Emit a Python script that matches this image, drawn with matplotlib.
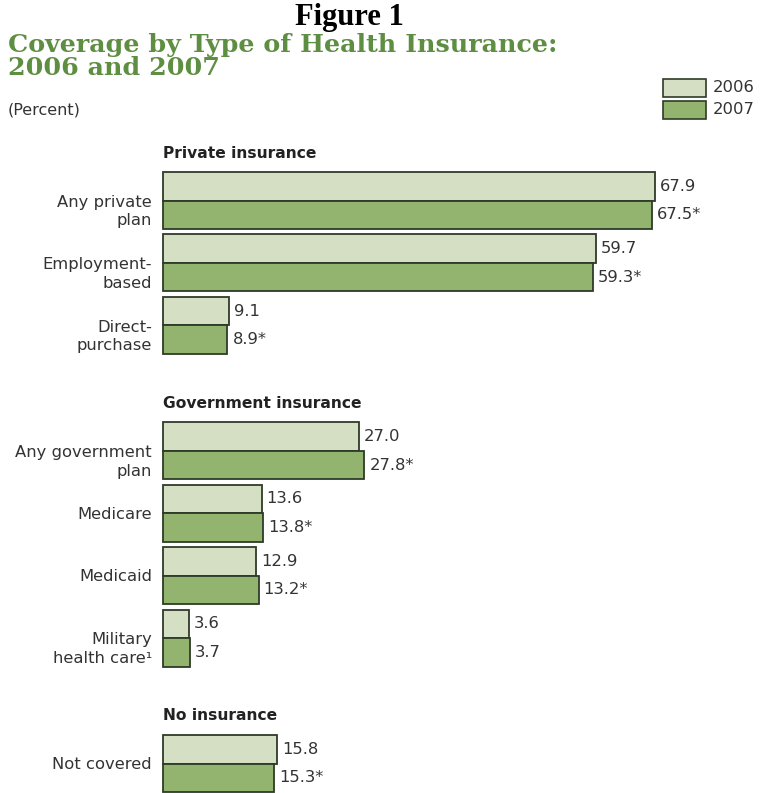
import matplotlib.pyplot as plt
from matplotlib.patches import Rectangle

# coverage rates, percent of the population
groups = ["Private insurance", "Government insurance", "No insurance"]
categories = [
    ["Any private\nplan", "Employment-\nbased", "Direct-\npurchase"],
    ["Any government\nplan", "Medicare", "Medicaid", "Military\nhealth care\u00b9"],
    ["Not covered"],
]
values_2006 = [[67.9, 59.7, 9.1], [27.0, 13.6, 12.9, 3.6], [15.8]]
values_2007 = [[67.5, 59.3, 8.9], [27.8, 13.8, 13.2, 3.7], [15.3]]
labels_2006 = [["67.9", "59.7", "9.1"], ["27.0", "13.6", "12.9", "3.6"], ["15.8"]]
labels_2007 = [["67.5*", "59.3*", "8.9*"], ["27.8*", "13.8*", "13.2*", "3.7"], ["15.3*"]]

C_2006 = "#d5dfc4"
C_2007 = "#93b46f"
C_EDGE = "#2e3b28"
C_TITLE = "#5e8e41"
C_TEXT = "#333333"

W, H = 762, 793
fig = plt.figure(figsize=(W / 100, H / 100), dpi=100)
fig.patch.set_facecolor("white")

# axes over the whole figure: x in percent, y in pixel rows from the top
x0 = 163
scale = 7.246
ax = fig.add_axes([0, 0, 1, 1])
ax.set_xlim(-x0 / scale, (W - x0) / scale)
ax.set_ylim(H, 0)
ax.axis("off")

bar_h = 28.5
pitch = 62.4
group_gap = 68.5
top = 172

lab_font = dict(family="DejaVu Sans", fontsize=11.8, color=C_TEXT)

for g, name in enumerate(groups):
    ax.text(0, top - 19, name, ha="left", va="center", fontsize=11.2,
            fontweight="bold", color="#222222", family="DejaVu Sans")
    for i, cat in enumerate(categories[g]):
        y = top + i * pitch
        v6 = values_2006[g][i]
        v7 = values_2007[g][i]
        ax.barh(y, v6, height=bar_h, align="edge", color=C_2006,
                edgecolor=C_EDGE, linewidth=1.3)
        ax.barh(y + bar_h, v7, height=bar_h, align="edge", color=C_2007,
                edgecolor=C_EDGE, linewidth=1.3)
        ax.text(v6 + 5 / scale, y + bar_h / 2, labels_2006[g][i],
                ha="left", va="center", **lab_font)
        ax.text(v7 + 5 / scale, y + bar_h * 1.5, labels_2007[g][i],
                ha="left", va="center", **lab_font)
        off = 11 if "\n" in cat else 1
        ax.text(-11 / scale, y + bar_h + off, cat, ha="right", va="center",
                linespacing=1.3, **lab_font)
    top = top + (len(categories[g]) - 1) * pitch + 2 * bar_h + group_gap

# titles
fig.text(349 / W, 1 - 18 / H, "Figure 1", ha="center", va="center",
         fontsize=22, fontweight="bold", family="Liberation Serif", color="black")
title_font = dict(ha="left", va="center", fontsize=18.3, fontweight="bold",
                  family="DejaVu Serif", color=C_TITLE)
fig.text(8 / W, 1 - 45 / H, "Coverage by Type of Health Insurance:", **title_font)
fig.text(8 / W, 1 - 68 / H, "2006 and 2007", **title_font)
fig.text(8 / W, 1 - 110 / H, "(Percent)", ha="left", va="center",
         fontsize=11.5, family="DejaVu Sans", color=C_TEXT)

# legend boxes
for k, (yr, col) in enumerate([("2006", C_2006), ("2007", C_2007)]):
    yb = 79 + k * 22
    fig.patches.append(Rectangle((663 / W, 1 - (yb + 18) / H), 43 / W, 18 / H,
                                 transform=fig.transFigure, facecolor=col,
                                 edgecolor=C_EDGE, linewidth=1.2))
    fig.text(713 / W, 1 - (yb + 9) / H, yr, ha="left", va="center", **lab_font)

fig.savefig("out.png", dpi=100, facecolor="white")
